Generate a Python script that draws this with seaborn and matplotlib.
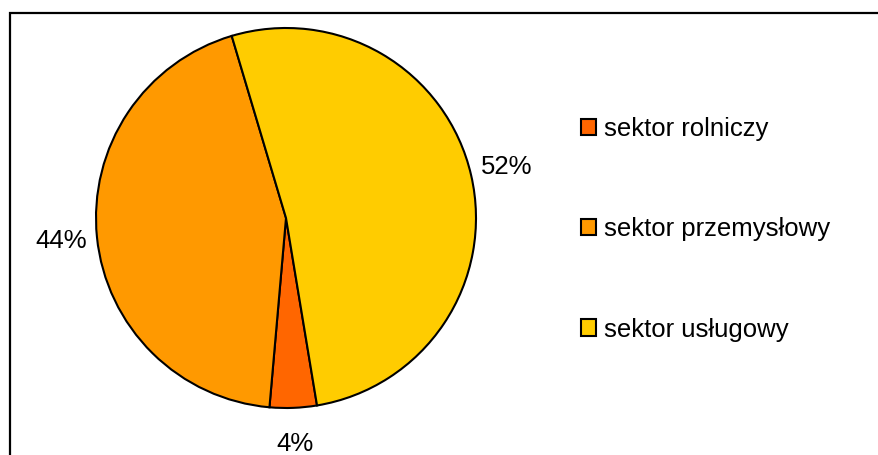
import matplotlib
matplotlib.use("Agg")
import matplotlib.pyplot as plt
import seaborn as sns
from matplotlib.patches import Rectangle, Patch

sns.set_theme(style="white")
plt.rcParams['font.family'] = ['Liberation Sans', 'DejaVu Sans']
plt.rcParams['text.color'] = 'black'

categories = ["sektor rolniczy", "sektor przemysłowy", "sektor usługowy"]
values = [4, 44, 52]
colors = ["#FF6600", "#FF9900", "#FFCC00"]

W, H = 879, 455
fig = plt.figure(figsize=(W / 100, H / 100), dpi=100)
fig.patch.set_facecolor("white")

# outer frame (extends beyond right and bottom edge)
fig.patches.append(Rectangle((9.5 / W, -0.1), 2.0, (H - 12.5) / H + 0.1,
                             transform=fig.transFigure, fill=False,
                             edgecolor="black", linewidth=1.6, zorder=0))

cx, cy, r = 286, 218, 190
ax = fig.add_axes([(cx - r) / W, (H - cy - r) / H, 2 * r / W, 2 * r / H])
wedges, texts, autotexts = ax.pie(
    values, colors=colors, counterclock=False, startangle=-80.6,
    autopct=lambda p: f"{p:.0f}%", pctdistance=1.19,
    wedgeprops=dict(edgecolor="black", linewidth=1.5),
    textprops=dict(fontsize=18.5, color="black"))
ax.set_xlim(-1, 1)
ax.set_ylim(-1, 1)
ax.set_aspect("equal")
ax.axis("off")
for t in autotexts:
    t.set_clip_on(False)

handles = [Patch(facecolor=c, edgecolor="black", linewidth=1.5) for c in colors]
leg = fig.legend(handles, categories, loc="upper left",
                 bbox_to_anchor=(581 / W, 1 - 117 / H), bbox_transform=fig.transFigure,
                 frameon=False, fontsize=18.5, handlelength=0.6, handleheight=0.6,
                 handletextpad=0.3, labelspacing=2.97, borderaxespad=0, borderpad=0)
for t in leg.get_texts():
    t.set_color("black")

fig.savefig("out.png", dpi=100, facecolor="white")
